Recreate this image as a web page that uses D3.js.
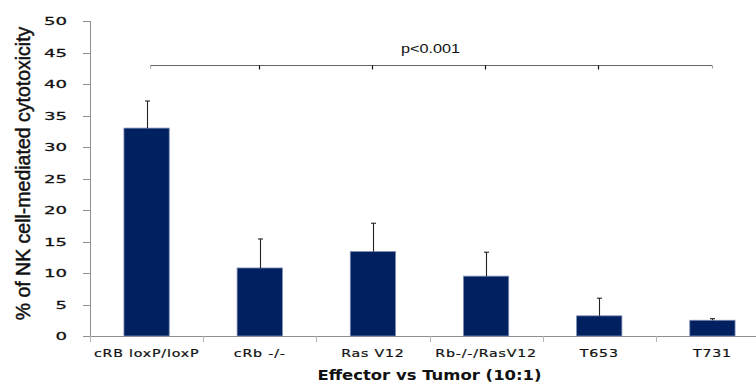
<!DOCTYPE html>
<html>
<head>
<meta charset="utf-8">
<script src="https://cdn.jsdelivr.net/npm/d3@7"></script>
<style>
  html, body { margin: 0; padding: 0; background: #fff; }
  svg { display: block; }
</style>
</head>
<body>
<svg id="chart" width="756" height="384"></svg>
<script>
// ---- data ----
const categories = ["cRB loxP/loxP", "cRb -/-", "Ras V12", "Rb-/-/RasV12", "T653", "T731"];
const values = [33.0, 10.8, 13.4, 9.5, 3.2, 2.5];
const errorsUp = [4.3, 4.6, 4.5, 3.8, 2.8, 0.25];
const yTicks = [0, 5, 10, 15, 20, 25, 30, 35, 40, 45, 50];
const yDomain = [0, 50];
const bracketLevel = 43;
const pLabel = "p<0.001";
const yTitle = "% of NK cell-mediated cytotoxicity";
const xTitle = "Effector vs Tumor (10:1)";

// ---- layout ----
const svg = d3.select("#chart");
svg.append("rect").attr("width", 756).attr("height", 384).attr("fill", "#fff");

const plot = { left: 90, right: 769, top: 21, bottom: 336 };
const x = d3.scaleBand().domain(categories).range([plot.left, plot.right])
  .paddingInner(0.6).paddingOuter(0.3);
const y = d3.scaleLinear().domain(yDomain).range([plot.bottom, plot.top]);

const axisColor = "#8f8f8f";
const tickFont = "'DejaVu Sans', Verdana, sans-serif";

// y axis line
svg.append("line").attr("x1", plot.left).attr("x2", plot.left)
  .attr("y1", y(yDomain[1])).attr("y2", y(0))
  .attr("stroke", axisColor).attr("stroke-width", 1).attr("shape-rendering", "crispEdges");

// y ticks + labels
const yt = svg.append("g");
yt.selectAll("line").data(yTicks).join("line")
  .attr("x1", plot.left - 7).attr("x2", plot.left)
  .attr("y1", d => Math.round(y(d)) + 0.5).attr("y2", d => Math.round(y(d)) + 0.5)
  .attr("stroke", axisColor).attr("stroke-width", 1);
yt.selectAll("text").data(yTicks).join("text")
  .attr("transform", d => `translate(67,${y(d) + 4}) scale(1.65,1)`)
  .attr("text-anchor", "end")
  .attr("font-family", tickFont).attr("font-size", 11).attr("fill", "#111")
  .attr("stroke", "#111").attr("stroke-width", 0.25)
  .text(d => d);

// x axis line
svg.append("line").attr("x1", plot.left).attr("x2", plot.right)
  .attr("y1", plot.bottom + 0.5).attr("y2", plot.bottom + 0.5)
  .attr("stroke", axisColor).attr("stroke-width", 1);

// x boundary ticks
const bounds = categories.map(c => x(c) - x.step() * x.paddingOuter())
  .concat([plot.right]);
svg.append("g").selectAll("line").data(bounds).join("line")
  .attr("x1", d => Math.round(d) + 0.5).attr("x2", d => Math.round(d) + 0.5)
  .attr("y1", plot.bottom).attr("y2", plot.bottom + 6)
  .attr("stroke", "#b5b5b5").attr("stroke-width", 1);

// bars
svg.append("g").selectAll("rect").data(categories).join("rect")
  .attr("x", c => x(c)).attr("width", x.bandwidth())
  .attr("y", (c, i) => y(values[i])).attr("height", (c, i) => y(0) - y(values[i]))
  .attr("fill", "#002060").attr("stroke", "#7d8db3").attr("stroke-width", 0.8);

// error bars (upper)
const eb = svg.append("g").attr("stroke", "#222").attr("stroke-width", 1.1);
categories.forEach((c, i) => {
  const cx = Math.round(x(c) + x.bandwidth() / 2) + 0.5;
  const top = y(values[i] + errorsUp[i]);
  eb.append("line").attr("x1", cx).attr("x2", cx).attr("y1", y(values[i])).attr("y2", top);
  eb.append("line").attr("x1", cx - 2.5).attr("x2", cx + 2.5).attr("y1", top).attr("y2", top);
});

// x labels
svg.append("g").selectAll("text").data(categories).join("text")
  .attr("transform", c => `translate(${x(c) + x.bandwidth() / 2},357) scale(1.35,1)`)
  .attr("text-anchor", "middle")
  .attr("font-family", tickFont).attr("font-size", 10.5).attr("letter-spacing", 0.6)
  .attr("fill", "#111").attr("stroke", "#111").attr("stroke-width", 0.2)
  .text(c => c);

// x title
svg.append("text")
  .attr("transform", `translate(${(plot.left + plot.right) / 2},380) scale(1.22,1)`)
  .attr("text-anchor", "middle")
  .attr("font-family", tickFont).attr("font-weight", "bold").attr("font-size", 13.5)
  .attr("fill", "#111")
  .text(xTitle);

// y title
svg.append("text")
  .attr("transform", `translate(29.5,${(plot.top + plot.bottom) / 2 - 5}) rotate(-90)`)
  .attr("text-anchor", "middle")
  .attr("font-family", "'Liberation Sans', Arial, sans-serif").attr("font-size", 19.5)
  .attr("fill", "#111").attr("stroke", "#111").attr("stroke-width", 0.45)
  .text(yTitle);

// significance bracket
const centers = categories.map(c => x(c) + x.bandwidth() / 2);
const by = Math.round(y(bracketLevel)) + 0.5;
const bx0 = centers[0] + 4, bx1 = centers[centers.length - 1];
const br = svg.append("g");
br.append("line").attr("x1", bx0).attr("x2", bx1).attr("y1", by).attr("y2", by)
  .attr("stroke", "#666").attr("stroke-width", 1);
br.selectAll("line.end").data([bx0, bx1]).join("line").attr("class", "end")
  .attr("x1", d => d).attr("x2", d => d).attr("y1", by).attr("y2", by + 3)
  .attr("stroke", "#999").attr("stroke-width", 1);
br.selectAll("line.mid").data(centers.slice(1, -1)).join("line").attr("class", "mid")
  .attr("x1", d => Math.round(d) - 0.5).attr("x2", d => Math.round(d) - 0.5)
  .attr("y1", by).attr("y2", by + 4)
  .attr("stroke", "#111").attr("stroke-width", 1.2);
br.append("text")
  .attr("transform", `translate(${(plot.left + plot.right) / 2 + 1},${by - 13}) scale(1.3,1)`)
  .attr("text-anchor", "middle")
  .attr("font-family", "'Liberation Sans', Arial, sans-serif").attr("font-size", 12.5)
  .attr("fill", "#111")
  .text(pLabel);
</script>
</body>
</html>
